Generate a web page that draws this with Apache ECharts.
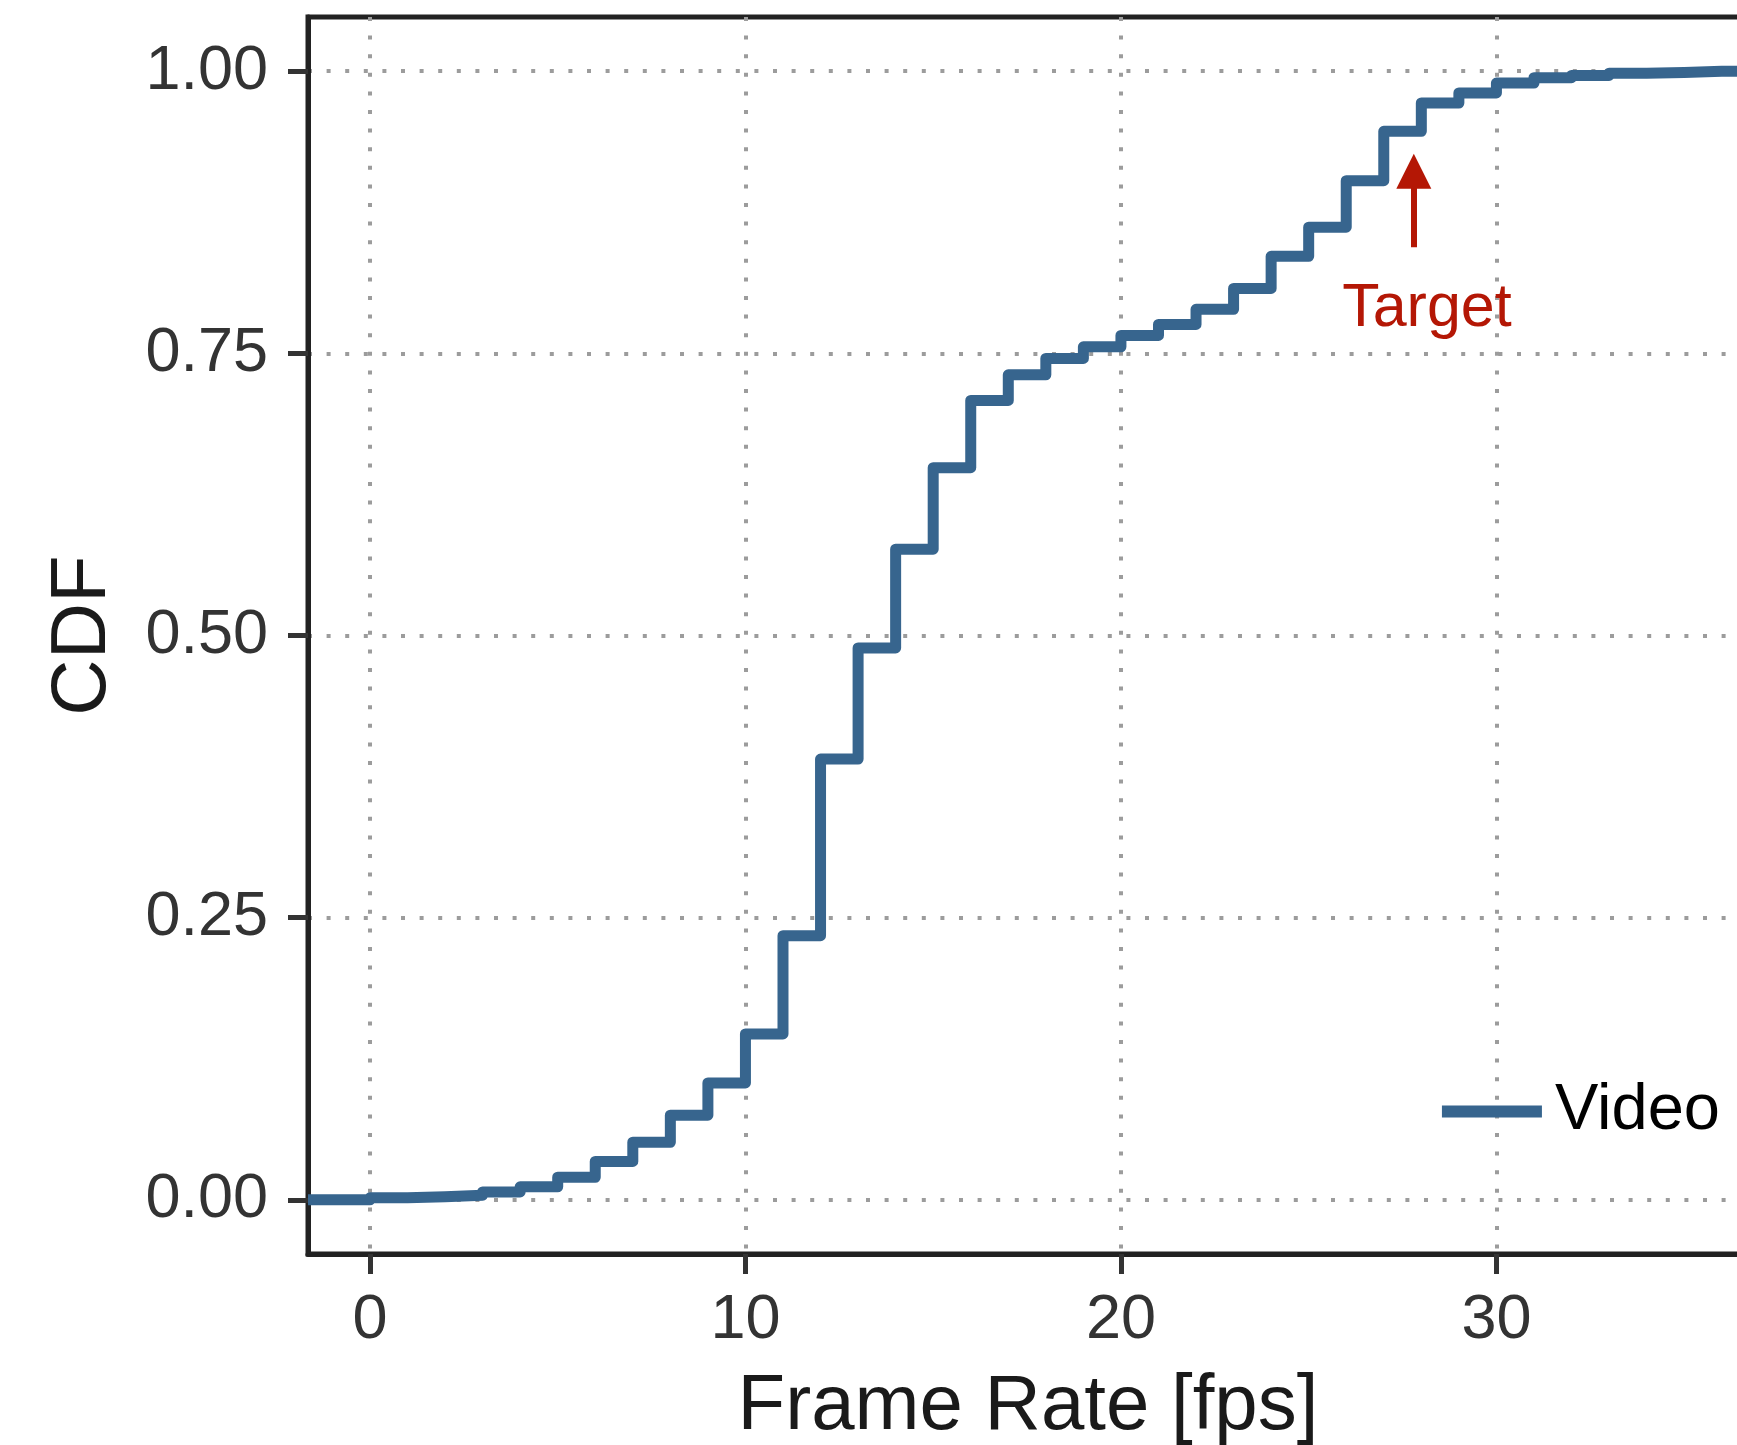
<!DOCTYPE html>
<html>
<head>
<meta charset="utf-8">
<script src="https://cdn.jsdelivr.net/npm/echarts@6/dist/echarts.min.js"></script>
<style>
  html, body { margin: 0; padding: 0; background: #ffffff; }
  #chart { width: 1737px; height: 1445px; }
</style>
</head>
<body>
<div id="chart"></div>
<script>
// Empirical CDF of the video frame rate, one step per integer fps
const fpsValues = [0, 1, 2, 3, 4, 5, 6, 7, 8, 9, 10, 11, 12, 13, 14, 15, 16, 17, 18,
  19, 20, 21, 22, 23, 24, 25, 26, 27, 28, 29, 30, 31, 32, 33, 34, 35, 36];
const cdfValues = [0.0018, 0.0027, 0.004, 0.007, 0.0115, 0.020, 0.034, 0.051, 0.075,
  0.1036, 0.147, 0.234, 0.3905, 0.489, 0.5765, 0.6487, 0.7083, 0.731, 0.7455, 0.7558,
  0.7659, 0.7756, 0.789, 0.8075, 0.836, 0.8618, 0.903, 0.9467, 0.9718, 0.9807, 0.9895,
  0.9942, 0.9962, 0.9982, 0.9988, 1.0, 1.0];
const seriesName = 'Video';

// Axis ticks
const xTicks = [0, 10, 20, 30];
const yTicks = [0, 0.25, 0.5, 0.75, 1.0];
const xRange = [-1.65, 36.7];
const yRange = [-0.048, 1.048];

// "Target" annotation
const targetFps = 27.8;
const arrowFrom = 0.844;
const arrowHead = 0.9113;
const targetLabelPos = [28.15, 0.789];
const targetText = 'Target';

const FONT = '"Liberation Sans", Arial, Helvetica, sans-serif';
const LINE_COLOR = '#37658e';
const RED = '#b41705';

// ECDF padded out to both axis limits
const stepData = [[xRange[0], 0]]
  .concat(fpsValues.map((x, i) => [x, cdfValues[i]]))
  .concat([[xRange[1], cdfValues[cdfValues.length - 1]]]);

const chart = echarts.init(document.getElementById('chart'), null, { renderer: 'canvas' });

chart.setOption({
  backgroundColor: '#ffffff',
  animation: false,
  grid: {
    left: 308,
    top: 17,
    right: -11,
    bottom: 191,
    outerBoundsMode: 'none',
    containLabel: false,
    show: true,
    borderColor: '#222222',
    borderWidth: 5,
    backgroundColor: 'transparent'
  },
  legend: {
    right: 12,
    top: 1074,
    icon: 'rect',
    itemWidth: 100,
    itemHeight: 12,
    selectedMode: false,
    textStyle: {
      fontFamily: FONT,
      fontSize: 65,
      color: '#000000',
      lineHeight: 65,
      padding: [0, 0, 0, 8]
    },
    data: [seriesName]
  },
  xAxis: {
    type: 'value',
    min: xRange[0],
    max: xRange[1],
    name: 'Frame Rate [fps]',
    nameLocation: 'middle',
    nameGap: 114,
    nameTextStyle: { fontFamily: FONT, fontSize: 78, color: '#1a1a1a' },
    axisLine: { show: true, onZero: false, lineStyle: { color: '#222222', width: 5 } },
    axisTick: {
      show: true, length: 20, customValues: xTicks,
      lineStyle: { color: '#333333', width: 5 }
    },
    axisLabel: {
      customValues: xTicks,
      margin: 35,
      fontFamily: FONT,
      fontSize: 63,
      color: '#333333',
      formatter: v => String(v)
    },
    splitLine: {
      show: true,
      lineStyle: { color: '#9c9c9c', width: 4, type: [4, 14.6] }
    }
  },
  yAxis: {
    type: 'value',
    min: yRange[0],
    max: yRange[1],
    name: 'CDF',
    nameLocation: 'middle',
    nameGap: 186,
    nameTextStyle: { fontFamily: FONT, fontSize: 78, color: '#1a1a1a' },
    axisLine: { show: true, onZero: false, lineStyle: { color: '#222222', width: 5 } },
    axisTick: {
      show: true, length: 20, customValues: yTicks,
      lineStyle: { color: '#333333', width: 5 }
    },
    axisLabel: {
      customValues: yTicks,
      margin: 40,
      fontFamily: FONT,
      fontSize: 63,
      color: '#333333',
      formatter: v => v.toFixed(2)
    },
    splitLine: {
      show: true,
      lineStyle: { color: '#9c9c9c', width: 4, type: [4, 14.6] }
    }
  },
  series: [
    {
      name: seriesName,
      type: 'line',
      step: 'end',
      data: stepData,
      showSymbol: false,
      symbol: 'none',
      clip: true,
      color: LINE_COLOR,
      itemStyle: { color: LINE_COLOR },
      lineStyle: { color: LINE_COLOR, width: 11, join: 'round', cap: 'butt' },
      emphasis: { disabled: true },
      z: 3,
      markLine: {
        silent: true,
        symbol: ['none', 'triangle'],
        symbolSize: 35,
        label: { show: false },
        emphasis: { disabled: true },
        itemStyle: { color: RED },
        lineStyle: { color: RED, width: 6, type: 'solid' },
        data: [[
          { coord: [targetFps, arrowFrom] },
          { coord: [targetFps, arrowHead] }
        ]]
      },
      markPoint: {
        silent: true,
        symbol: 'circle',
        symbolSize: 1,
        itemStyle: { color: 'transparent' },
        label: {
          show: true,
          position: 'inside',
          formatter: targetText,
          fontFamily: FONT,
          fontSize: 61,
          color: RED
        },
        data: [{ coord: targetLabelPos }]
      }
    }
  ]
});
</script>
</body>
</html>
